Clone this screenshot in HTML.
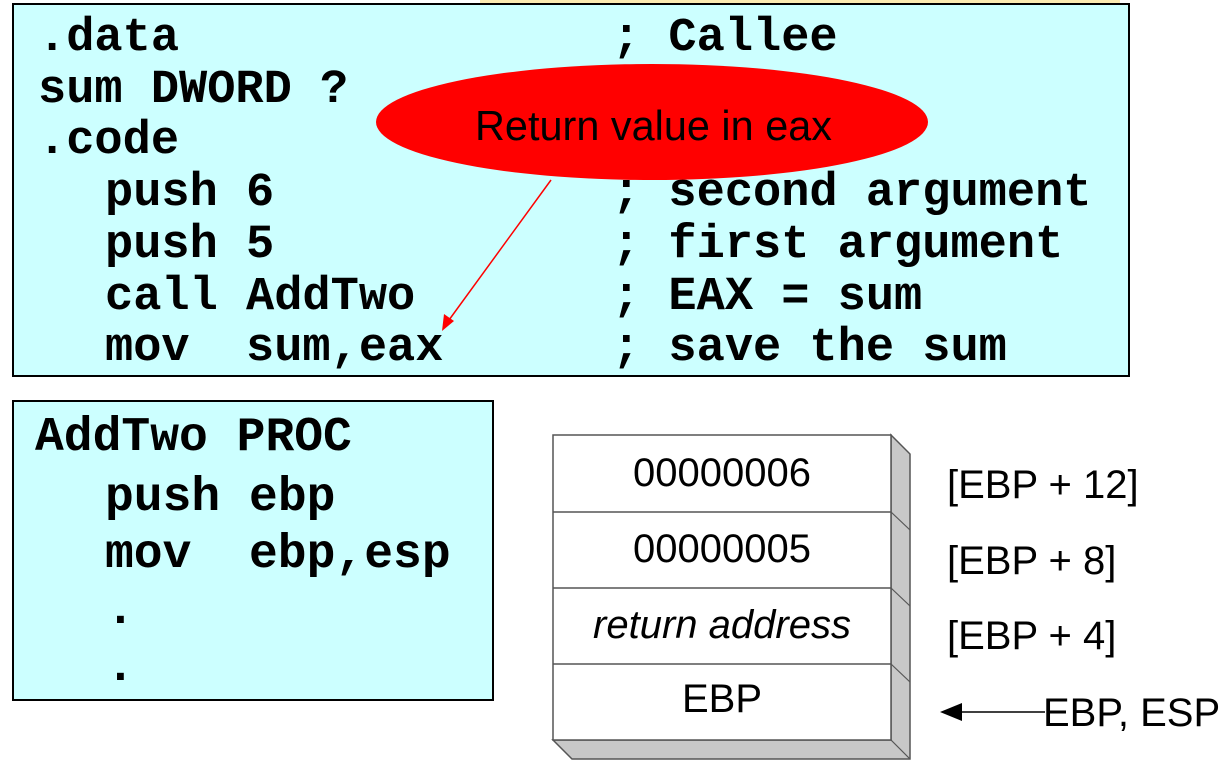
<!DOCTYPE html>
<html><head><meta charset="utf-8"><style>
html,body{margin:0;padding:0;background:#fff;width:1232px;height:768px;overflow:hidden}
.m{font-family:"Liberation Mono",monospace;font-weight:bold;font-size:47px;fill:#000;white-space:pre}
.s{font-family:"Liberation Sans",Arial,sans-serif;font-size:40px;fill:#000}
</style></head><body>
<svg width="1232" height="768" viewBox="0 0 1232 768" xmlns="http://www.w3.org/2000/svg">
<rect x="480" y="0" width="640" height="4" fill="#fbeab0"/>
<rect x="13" y="4" width="1116" height="372" fill="#ccffff" stroke="#000" stroke-width="2"/>
<g class="m">
<text x="38" y="50">.data</text><text x="612" y="50">; Callee</text>
<text x="38" y="102">sum DWORD ?</text>
<text x="38" y="153">.code</text>
<text x="105" y="205">push 6</text><text x="612" y="205">; second argument</text>
<text x="105" y="257">push 5</text><text x="612" y="257">; first argument</text>
<text x="105" y="309">call AddTwo</text><text x="612" y="309">; EAX = sum</text>
<text x="105" y="360">mov</text><text x="246" y="360">sum,eax</text><text x="612" y="360">; save the sum</text>
</g>
<ellipse cx="652" cy="122" rx="276" ry="58" fill="#ff0000"/>
<text x="475" y="140" class="s" style="font-size:42px" textLength="357" lengthAdjust="spacingAndGlyphs">Return value in eax</text>
<line x1="551" y1="180" x2="449" y2="320" stroke="#ff0000" stroke-width="1.5"/>
<polygon points="442,331 444,314 454,321" fill="#ff0000"/>
<rect x="13" y="401" width="480" height="299" fill="#ccffff" stroke="#000" stroke-width="2"/>
<g class="m" style="font-size:48px">
<text x="35" y="450">AddTwo PROC</text>
<text x="105" y="510">push ebp</text>
<text x="105" y="567">mov</text><text x="249" y="567">ebp,esp</text>
<text x="106" y="623">.</text>
<text x="106" y="680">.</text>
</g>
<polygon points="891,435 910,454 910,759 572,759 553,740 891,740" fill="#c8c8c8" stroke="#555" stroke-width="1.5"/>
<g stroke="#555" stroke-width="1.2" fill="none">
<line x1="891" y1="512" x2="910" y2="530"/><line x1="891" y1="588" x2="910" y2="606"/><line x1="891" y1="664" x2="910" y2="682"/><line x1="891" y1="740" x2="910" y2="759"/>
</g>
<rect x="553" y="435" width="338" height="305" fill="#fff" stroke="#555" stroke-width="1.5"/>
<g stroke="#555" stroke-width="1.5"><line x1="553" y1="512" x2="891" y2="512"/><line x1="553" y1="588" x2="891" y2="588"/><line x1="553" y1="664" x2="891" y2="664"/></g>
<g class="s" text-anchor="middle">
<text x="722" y="486">00000006</text>
<text x="722" y="562">00000005</text>
<text x="722" y="638" font-style="italic">return address</text>
<text x="722" y="712">EBP</text>
</g>
<g class="s">
<text x="947" y="498">[EBP + 12]</text>
<text x="947" y="574">[EBP + 8]</text>
<text x="947" y="649">[EBP + 4]</text>
<text x="1043" y="726">EBP, ESP</text>
</g>
<line x1="955" y1="712" x2="1045" y2="712" stroke="#000" stroke-width="1.5"/>
<polygon points="940,712 962,703 962,721" fill="#000"/>
</svg>
</body></html>
